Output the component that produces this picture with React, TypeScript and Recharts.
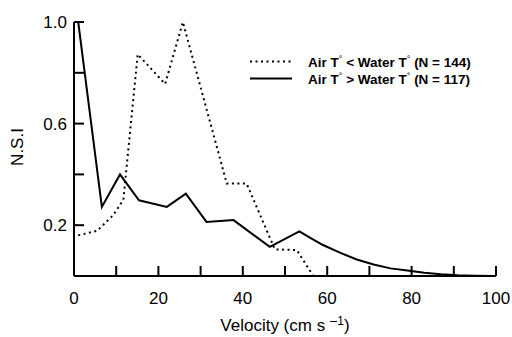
import { LineChart, Line, XAxis, YAxis, Legend } from "recharts";

const FONT = '"Liberation Sans", Arial, Helvetica, sans-serif';

// Air T < Water T (dotted)
const coldVelocity = [1, 5.5, 9.3, 11.7, 15.1, 21.6, 25.8, 36.2, 40.9, 47.6, 52.8, 56.7];
const coldNsi = [0.16, 0.178, 0.24, 0.3, 0.873, 0.756, 1.0, 0.364, 0.364, 0.105, 0.102, 0];

// Air T > Water T (solid)
const warmVelocity = [1, 6.6, 10.9, 15.4, 22, 26.5, 31.4, 37.8, 46.4, 53.4, 56, 59, 63, 67, 71, 75, 79, 83, 87, 91, 95, 100];
const warmNsi = [1.0, 0.272, 0.4, 0.298, 0.272, 0.324, 0.213, 0.22, 0.115, 0.176, 0.15, 0.122, 0.092, 0.065, 0.045, 0.03, 0.022, 0.013, 0.007, 0.003, 0.001, 0];

const xTicks = [0, 10, 20, 30, 40, 50, 60, 70, 80, 90, 100];
const xLabels = [0, 20, 40, 60, 80, 100];
const yTicks = [0.2, 0.4, 0.6, 0.8, 1.0];
const yLabels = [0.2, 0.6, 1.0];

const legendLabels = ["Air T° < Water T° (N = 144)", "Air T° > Water T° (N = 117)"];
const legendDash = ["2 3.5", undefined];

const coldData = coldVelocity.map((v, i) => ({ v, nsi: coldNsi[i] }));
const warmData = warmVelocity.map((v, i) => ({ v, nsi: warmNsi[i] }));

function XTick(props: any) {
    const { x, y, payload } = props;
    const v = payload.value;
    return (
        <g>
            {v > 0 && <line x1={x} x2={x} y1={y} y2={y - 10} stroke="#000" strokeWidth={2} />}
            {xLabels.includes(v) && (
                <text x={x} y={y + 28} textAnchor="middle" fontSize={17} fontFamily={FONT} fill="#000">
                    {v}
                </text>
            )}
        </g>
    );
}

function YTick(props: any) {
    const { x, y, payload } = props;
    const v = payload.value;
    const labelled = yLabels.some((l) => Math.abs(l - v) < 1e-6);
    return (
        <g>
            <line x1={x} x2={x + 10} y1={y} y2={y} stroke="#000" strokeWidth={2} />
            {labelled && (
                <text x={x - 7} y={y + 6} textAnchor="end" fontSize={17} fontFamily={FONT} fill="#000">
                    {v.toFixed(1)}
                </text>
            )}
        </g>
    );
}

function LegendBox() {
    return (
        <div style={{ fontFamily: FONT, fontWeight: "bold", fontSize: 13.5, color: "#000" }}>
            {legendLabels.map((label, i) => (
                <div key={label} style={{ display: "flex", alignItems: "center", height: 17 }}>
                    <svg width={58} height={17}>
                        <line x1={0} x2={42} y1={8.5} y2={8.5} stroke="#000" strokeWidth={2} strokeDasharray={legendDash[i]} />
                    </svg>
                    <span style={{ whiteSpace: "nowrap" }}>
                        {label.split("°").map((part, j, arr) => (
                            <span key={j}>
                                {part}
                                {j < arr.length - 1 && <span style={{ fontSize: 9, verticalAlign: "super", fontWeight: "normal" }}>°</span>}
                            </span>
                        ))}
                    </span>
                </div>
            ))}
        </div>
    );
}

export default function App() {
    return (
        <div style={{ position: "absolute", left: 0, top: 0, width: 512, height: 337, background: "#fff" }}>
            <LineChart width={512} height={337} margin={{ top: 22, right: 16, bottom: 31, left: 14 }}>
                <XAxis
                    dataKey="v"
                    type="number"
                    domain={[0, 100]}
                    ticks={xTicks}
                    interval={0}
                    height={30}
                    tickSize={0}
                    tickMargin={0}
                    tickLine={false}
                    tick={<XTick />}
                    axisLine={{ stroke: "#000", strokeWidth: 2 }}
                    allowDataOverflow
                />
                <YAxis
                    type="number"
                    domain={[0, 1]}
                    ticks={yTicks}
                    interval={0}
                    width={60}
                    tickSize={0}
                    tickMargin={0}
                    tickLine={false}
                    tick={<YTick />}
                    axisLine={{ stroke: "#000", strokeWidth: 2 }}
                    allowDataOverflow
                />
                <Legend
                    layout="vertical"
                    align="center"
                    verticalAlign="middle"
                    wrapperStyle={{ left: 250, top: 53, width: 250 }}
                    content={() => <LegendBox />}
                />
                <Line
                    data={coldData}
                    dataKey="nsi"
                    stroke="#000"
                    strokeWidth={2}
                    strokeDasharray="2 3.5"
                    dot={false}
                    isAnimationActive={false}
                />
                <Line
                    data={warmData}
                    dataKey="nsi"
                    stroke="#000"
                    strokeWidth={2}
                    dot={false}
                    isAnimationActive={false}
                />
            </LineChart>
            <svg width={512} height={337} style={{ position: "absolute", left: 0, top: 0, pointerEvents: "none" }}>
                <text
                    transform="translate(23,147) rotate(-90)"
                    textAnchor="middle"
                    fontSize={17}
                    fontFamily={FONT}
                    fill="#000"
                >
                    N.S.I
                </text>
                <text x={285} y={331} textAnchor="middle" fontSize={17} fontFamily={FONT} fill="#000">
                    Velocity (cm s
                    <tspan dx={4} dy={-5} fontSize={14}>−</tspan>
                    <tspan dy={-1} fontSize={12}>1</tspan>
                    <tspan dy={6}>)</tspan>
                </text>
            </svg>
        </div>
    );
}
